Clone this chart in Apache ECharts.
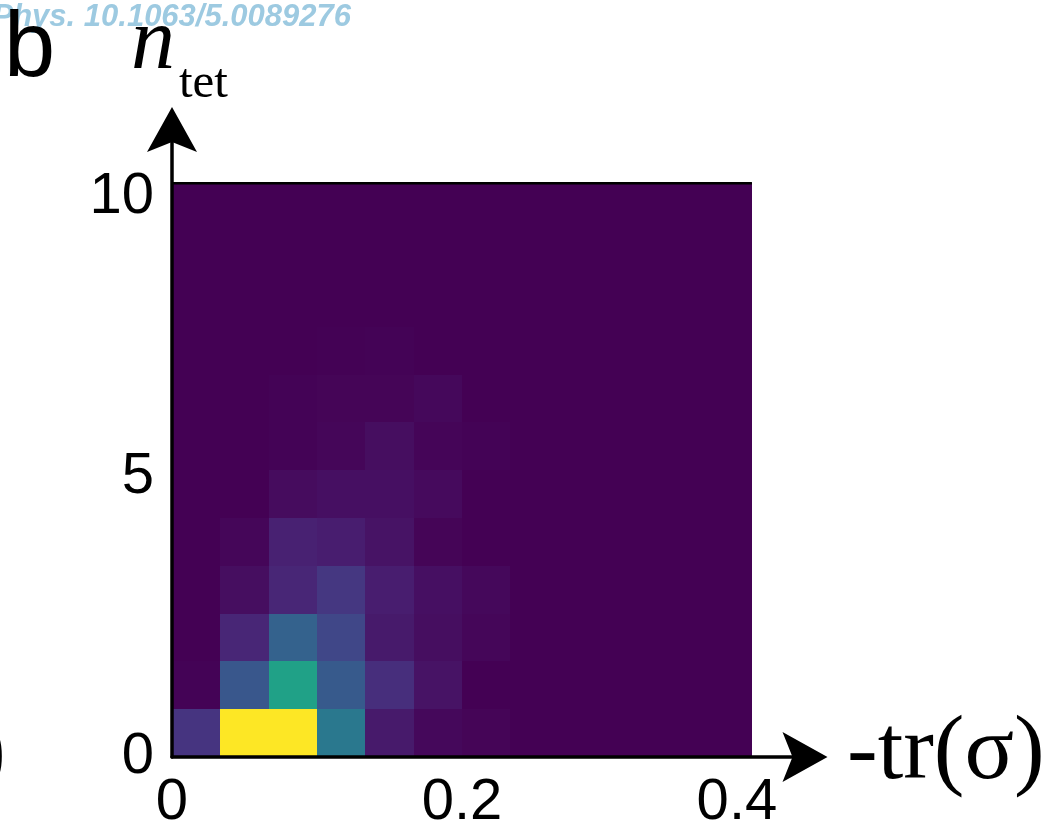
<!DOCTYPE html>
<html>
<head>
<meta charset="utf-8">
<script src="https://cdn.jsdelivr.net/npm/echarts@6/dist/echarts.min.js"></script>
<style>
  html, body { margin: 0; padding: 0; background: #fff; }
  #chart { width: 1054px; height: 832px; }
</style>
</head>
<body>
<div id="chart"></div>
<script>
// Bin edges along -tr(σ) (12 columns) and n_tet (12 rows)
const xEdges = [0, 0.0333, 0.0667, 0.1, 0.1333, 0.1667, 0.2, 0.2333, 0.2667, 0.3, 0.3333, 0.3667, 0.4];
const yEdges = [0, 0.854, 1.708, 2.563, 3.417, 4.271, 5.125, 5.979, 6.833, 7.688, 8.542, 9.396, 10.25];

// Relative frequency per bin (percent of the most populated bin), bottom row first
const density = [
  [15, 100, 100, 40, 7, 2, 1, 0, 0, 0, 0, 0],
  [0.5, 27, 57, 28, 13, 5, 0, 0, 0, 0, 0, 0],
  [0, 10.5, 31, 21, 7, 3.5, 1.5, 0, 0, 0, 0, 0],
  [0, 3.5, 10.5, 16, 8, 4, 2, 0, 0, 0, 0, 0],
  [0, 1.5, 9, 8, 5, 1, 0, 0, 0, 0, 0, 0],
  [0, 0, 3, 4, 4, 2.5, 0, 0, 0, 0, 0, 0],
  [0, 0, 0.5, 1.5, 3.5, 1.2, 0.5, 0, 0, 0, 0, 0],
  [0, 0, 0.5, 1, 1, 2, 0, 0, 0, 0, 0, 0],
  [0, 0, 0, 0.3, 0.6, 0, 0, 0, 0, 0, 0, 0],
  [0, 0, 0, 0, 0, 0, 0, 0, 0, 0, 0, 0],
  [0, 0, 0, 0, 0, 0, 0, 0, 0, 0, 0, 0],
  [0, 0, 0, 0, 0, 0, 0, 0, 0, 0, 0, 0]
];

const xTickValues = [0, 0.2, 0.4];
const yTickValues = [0, 5, 10];

const viridis = ['#440154', '#471365', '#482475', '#463480', '#414487', '#3b528b', '#355f8d',
  '#2f6c8e', '#2a788e', '#25848e', '#21918c', '#1e9c89', '#22a884', '#2fb47c', '#44bf70',
  '#5ec962', '#7ad151', '#9bd93c', '#bddf26', '#dfe318', '#fde725'];

const cells = [];
density.forEach(function (row, r) {
  row.forEach(function (v, c) {
    cells.push([xEdges[c], xEdges[c + 1], yEdges[r], yEdges[r + 1], v]);
  });
});

const ARROW = 'path://M25,0 L50,45 L25,35 L0,45 Z';
const SANS = '"Liberation Sans", Arial, Helvetica, sans-serif';
const SERIF = '"Liberation Serif", "Times New Roman", serif';

const chart = echarts.init(document.getElementById('chart'), null, { renderer: 'canvas' });

chart.setOption({
  animation: false,
  backgroundColor: '#fff',
  grid: { left: 172, right: 249, top: 129.5, bottom: 71, containLabel: false },
  xAxis: {
    type: 'value',
    min: 0,
    max: 0.4366,
    z: 5,
    axisLine: {
      show: true, onZero: false,
      symbol: ['none', ARROW], symbolSize: [50, 45],
      lineStyle: { color: '#000', width: 3.5 }
    },
    axisTick: { show: false },
    splitLine: { show: false },
    axisLabel: {
      customValues: xTickValues,
      margin: 17,
      color: '#000',
      fontSize: 58,
      fontFamily: SANS,
      formatter: function (v) {
        return v === 0.4 ? '{s|0.4}' : String(v);
      },
      rich: { s: { fontSize: 58, fontFamily: SANS, color: '#000', padding: [0, 30, 0, 0] } }
    }
  },
  yAxis: {
    type: 'value',
    min: 0,
    max: 11.21,
    z: 5,
    axisLine: {
      show: true, onZero: false,
      symbol: ['none', ARROW], symbolSize: [50, 45],
      lineStyle: { color: '#000', width: 3.5 }
    },
    axisTick: { show: false },
    splitLine: { show: false },
    axisLabel: {
      customValues: yTickValues,
      margin: 18,
      color: '#000',
      fontSize: 58,
      fontFamily: SANS
    }
  },
  visualMap: {
    show: false,
    type: 'continuous',
    seriesIndex: 0,
    dimension: 4,
    min: 0,
    max: 100,
    inRange: { color: viridis }
  },
  series: [
    {
      type: 'custom',
      silent: true,
      encode: { x: [0, 1], y: [2, 3] },
      data: cells,
      renderItem: function (params, api) {
        const p0 = api.coord([api.value(0), api.value(3)]);
        const p1 = api.coord([api.value(1), api.value(2)]);
        const x0 = Math.round(p0[0]), y0 = Math.round(p0[1]);
        const x1 = Math.round(p1[0]), y1 = Math.round(p1[1]);
        return {
          type: 'rect',
          shape: { x: x0, y: y0, width: x1 - x0, height: y1 - y0 },
          style: { fill: api.visual('color') }
        };
      }
    },
    {
      // upper frame edge of the histogram
      type: 'line',
      silent: true,
      symbol: 'none',
      z: 4,
      data: [[0, yEdges[12]], [xEdges[12], yEdges[12]]],
      lineStyle: { color: '#000', width: 2.5 }
    }
  ],
  graphic: [
    { type: 'text', x: 351, y: 17, style: { text: 'Phys. 10.1063/5.0089276', align: 'right', verticalAlign: 'middle', font: 'italic bold 31px ' + SANS, fill: '#9dcae1' } },
    { type: 'text', x: 4, y: 51, style: { text: 'b', verticalAlign: 'middle', font: '92px ' + SANS, fill: '#000' } },
    { type: 'text', x: 131, y: 45, style: { text: 'n', verticalAlign: 'middle', font: 'italic 88px ' + SERIF, fill: '#000' } },
    { type: 'text', x: 179, y: 84, style: { text: 'tet', verticalAlign: 'middle', font: '49px ' + SERIF, fill: '#000' } },
    { type: 'text', x: 847, y: 754, style: { text: '-tr(σ)', verticalAlign: 'middle', font: '92px ' + SERIF, fill: '#000' } },
    { type: 'text', x: 6, y: 754, style: { text: ')', align: 'right', verticalAlign: 'middle', font: '92px ' + SERIF, fill: '#000' } }
  ]
});
</script>
</body>
</html>
